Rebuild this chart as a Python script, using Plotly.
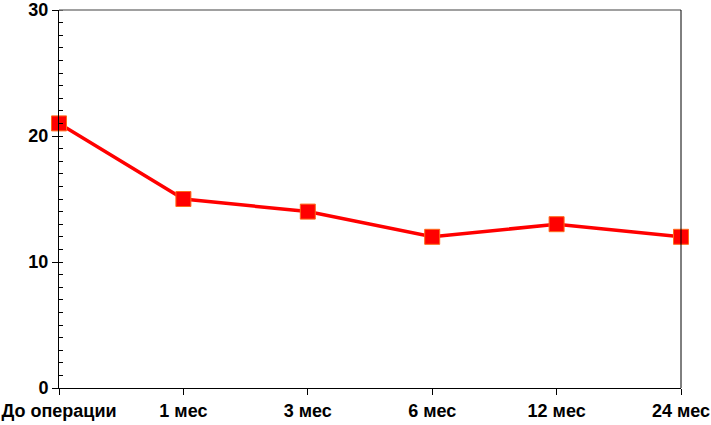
import plotly.graph_objects as go

# data
periods = ["До операции", "1 мес", "3 мес", "6 мес", "12 мес", "24 мес"]
values = [21, 15, 14, 12, 13, 12]

fig = go.Figure(go.Scatter(
    x=periods,
    y=values,
    mode="lines+markers",
    line=dict(color="#ff0000", width=3.5),
    marker=dict(symbol="square", size=15, color="#ff0000",
                line=dict(color="#ff6a1a", width=1)),
    cliponaxis=False,
    showlegend=False,
))

font = dict(family="Liberation Sans, Arial, sans-serif", size=18, color="black")

fig.update_layout(
    width=711, height=425,
    margin=dict(l=59, r=30, t=10, b=37),
    plot_bgcolor="white",
    paper_bgcolor="white",
    font=font,
    xaxis=dict(
        type="category",
        range=[0, len(periods) - 1],
        showline=True, linecolor="black", linewidth=1,
        ticks="outside", ticklen=6, tickcolor="black",
        showgrid=False, zeroline=False,
        automargin=False, ticklabeloverflow="allow",
        tickfont=dict(font, weight="bold"),
    ),
    yaxis=dict(
        range=[0, 30],
        tickvals=[0, 10, 20, 30],
        showline=True, linecolor="black", linewidth=1,
        ticks="outside", ticklen=6, tickcolor="black",
        minor=dict(dtick=1, ticks="inside", ticklen=4, tickcolor="black"),
        showgrid=False, zeroline=False,
        automargin=False, ticklabeloverflow="allow",
        tickfont=dict(font, weight="bold"),
    ),
    shapes=[
        dict(type="line", xref="paper", yref="paper", x0=0, x1=1, y0=1, y1=1,
             line=dict(color="#808080", width=1.5)),
        dict(type="line", xref="paper", yref="paper", x0=1, x1=1, y0=0, y1=1,
             line=dict(color="black", width=1)),
    ],
)

# drop the default page margin so the figure sits at the window corner
fig.write_html("out.html",
               config={"displayModeBar": False},
               post_script="document.body.style.margin='0';")
